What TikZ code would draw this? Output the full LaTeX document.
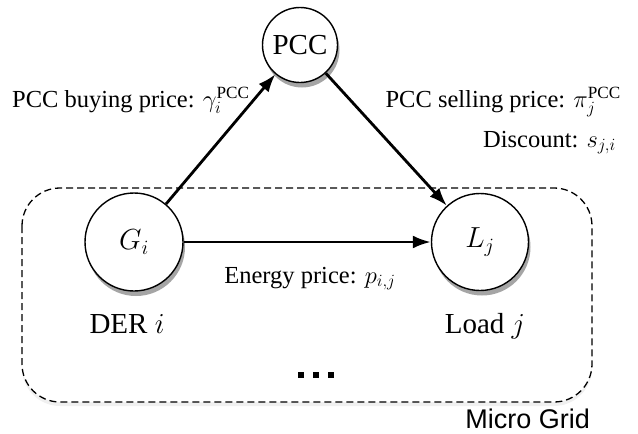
\RequirePackage{fix-cm}
\documentclass[tikz,border=0pt]{standalone}
\usepackage{fontspec}
\setmainfont{Liberation Serif}
\setsansfont{Liberation Sans}
\usetikzlibrary{arrows.meta,shadows}
\begin{document}
\begin{tikzpicture}[x=1pt,y=-1pt,
  ent/.style={circle,draw=black,line width=1.4pt,fill=white,minimum size=#1,inner sep=0pt,
    drop shadow={shadow xshift=2pt,shadow yshift=-5pt,opacity=0.5,fill=black!70}},
  conn/.style={line width=2.8pt,-{Latex[length=18pt,width=13pt]}},
  lbl/.style={font=\fontsize{24.5}{28}\selectfont,inner sep=0pt}]
\useasboundingbox (0,0) rectangle (638,434);
% micro grid box
\draw[line width=1.3pt,dashed,dash pattern=on 7pt off 4pt,rounded corners=38pt,
  drop shadow={shadow xshift=0pt,shadow yshift=-4pt,opacity=0.12}, fill=white]
  (22,188) rectangle (592,402);
\node[font=\sffamily\fontsize{27}{30}\selectfont,anchor=base east,inner sep=0pt] (mg) at (590,428) {Micro Grid};
% nodes
\node[ent=75pt,font=\fontsize{29}{32}\selectfont] (pcc) at (300,45) {PCC};
\node[ent=98pt,font=\fontsize{29}{32}\selectfont] (g) at (134,242) {$G_i$};
\node[ent=97pt,font=\fontsize{29}{32}\selectfont] (l) at (480,242) {$L_j$};
% connectors
\draw[conn] (g) -- (pcc);
\draw[conn] (pcc) -- (l);
\draw[conn] (g) -- (l);
% labels
\node[lbl,anchor=base west] (buy) at (12,107) {PCC buying price: $\gamma_i^{\mathrm{PCC}}$};
\node[lbl,anchor=base east] (sell) at (621,107) {PCC selling price: $\pi_j^{\mathrm{PCC}}$};
\node[lbl,anchor=base east] (disc) at (616,147) {Discount: $s_{j,i}$};
\node[lbl,anchor=base] (ep) at (310,283) {Energy price: $p_{i,j}$};
\node[font=\fontsize{29}{32}\selectfont,anchor=base,inner sep=0pt] (der) at (127,333) {DER $i$};
\node[font=\fontsize{29}{32}\selectfont,anchor=base,inner sep=0pt] (load) at (485,333) {Load $j$};
\node[inner sep=0pt] (dots) at (316,375) {\rule{6pt}{6pt}\hspace{9pt}\rule{6pt}{6pt}\hspace{9pt}\rule{6pt}{6pt}};
\end{tikzpicture}
\end{document}
